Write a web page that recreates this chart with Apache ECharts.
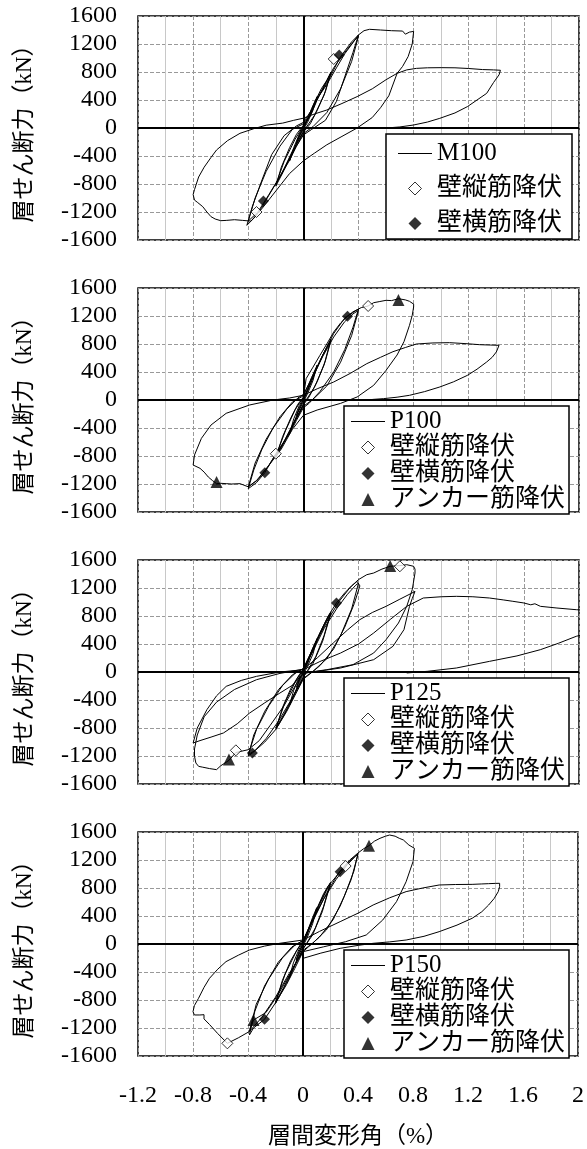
<!DOCTYPE html>
<html style="height: 100%">
<head>
<meta charset="utf-8">
</head>
<body style="height: 100%; margin: 0; background: #fff">
<div id="container" style="width: 587px; height: 1149px;"></div>
<script src="https://cdn.jsdelivr.net/npm/echarts@6/dist/echarts.min.js"></script>
<script type="text/javascript">
// specimen names (one panel each)
var panelNames = ['M100', 'P100', 'P125', 'P150'];
var xTicks = [-1.2, -0.8, -0.4, 0, 0.4, 0.8, 1.2, 1.6, 2];
var yTicks = [-1600, -1200, -800, -400, 0, 400, 800, 1200, 1600];

// hysteresis curves [drift %, shear kN]
var M100 = [
[0,0],[0.02,80],[0.04,170],[0.05,220],[0.03,110],[0,10],[-0.02,-70],[-0.04,-160],[-0.05,-210],[-0.03,-110],[0,-10],
[0.03,120],[0.06,280],[0.1,450],[0.07,260],[0.03,80],[0,-20],[-0.04,-170],[-0.07,-320],[-0.1,-470],[-0.07,-280],[-0.03,-90],[0,20],
[0.04,160],[0.08,360],[0.13,560],[0.17,680],[0.2,800],[0.16,520],[0.1,250],[0.05,60],[0,-60],[-0.05,-230],[-0.1,-430],[-0.15,-640],[-0.2,-830],[-0.16,-560],[-0.1,-280],[-0.05,-90],[0,40],
[0.05,170],[0.1,400],[0.15,600],[0.2,790],[0.15,470],[0.08,180],[0,-50],[-0.08,-330],[-0.14,-580],[-0.2,-810],[-0.14,-480],[-0.06,-160],[0,30],
[0.05,190],[0.1,420],[0.17,640],[0.22,830],[0.26,990],[0.3,1100],[0.35,1230],[0.4,1330],[0.36,1080],[0.3,730],[0.24,380],[0.16,110],[0.06,-20],[0,-100],[-0.05,-260],[-0.1,-460],[-0.18,-730],[-0.25,-960],[-0.3,-1130],[-0.35,-1270],[-0.41,-1390],[-0.37,-1120],[-0.3,-740],[-0.23,-380],[-0.14,-110],[-0.05,30],[0,80],
[0.06,260],[0.14,560],[0.22,860],[0.3,1080],[0.37,1250],[0.4,1310],[0.35,950],[0.27,560],[0.17,220],[0.07,20],[0,-80],[-0.08,-360],[-0.16,-660],[-0.25,-950],[-0.33,-1200],[-0.4,-1330],[-0.35,-1000],[-0.27,-620],[-0.17,-260],[-0.08,-20],[0,60],
[0.05,200],[0.1,420],[0.17,620],[0.24,860],[0.3,1060],[0.36,1220],[0.4,1330],[0.44,1390],[0.48,1410],[0.56,1400],[0.64,1390],[0.72,1385],[0.74,1340],[0.77,1370],[0.8,1380],[0.79,1200],[0.76,1020],[0.72,880],[0.68,780],[0.62,460],[0.56,290],[0.5,150],[0.39,0],[0.28,-120],[0.17,-240],[0.08,-360],[0,-470],[-0.1,-650],[-0.2,-900],[-0.3,-1150],[-0.38,-1330],[-0.44,-1320],[-0.5,-1310],[-0.56,-1320],[-0.6,-1324],[-0.64,-1300],[-0.67,-1267],[-0.7,-1200],[-0.73,-1124],[-0.77,-1060],[-0.79,-1030],[-0.8,-950],[-0.79,-880],[-0.76,-700],[-0.72,-560],[-0.67,-420],[-0.63,-314],[-0.55,-180],[-0.46,-76],[-0.36,-10],[-0.27,40],[-0.15,70],[-0.07,110],[0,140],
[0.08,200],[0.17,257],[0.28,350],[0.39,448],[0.5,560],[0.6,690],[0.68,781],[0.75,830],[0.82,852],[0.9,860],[1.0,862],[1.1,860],[1.2,850],[1.3,835],[1.38,830],[1.43,825],[1.42,760],[1.38,650],[1.33,495],[1.26,400],[1.19,305],[1.1,215],[0.99,138],[0.9,85],[0.8,43],[0.7,15],[0.6,0]
];
var P100 = [
[0,0],[0.02,90],[0.04,190],[0.05,240],[0.03,120],[0,0],[-0.02,-80],[-0.04,-170],[-0.05,-220],[-0.03,-110],[0,0],
[0.03,150],[0.06,320],[0.1,500],[0.07,280],[0.03,90],[0,-30],[-0.04,-180],[-0.07,-330],[-0.1,-480],[-0.07,-270],[-0.03,-80],[0,20],
[0.04,180],[0.09,420],[0.14,640],[0.2,850],[0.16,560],[0.1,260],[0.04,40],[0,-70],[-0.05,-260],[-0.1,-460],[-0.15,-640],[-0.2,-820],[-0.15,-520],[-0.09,-250],[-0.04,-60],[0,40],
[0.05,220],[0.1,460],[0.15,680],[0.2,870],[0.15,500],[0.08,180],[0,-60],[-0.08,-360],[-0.14,-600],[-0.2,-800],[-0.13,-440],[-0.06,-140],[0,40],
[0.02,305],[0.07,470],[0.12,638],[0.17,800],[0.22,971],[0.27,1100],[0.32,1195],[0.36,1250],[0.4,1300],[0.36,1040],[0.3,720],[0.22,400],[0.12,120],[0.04,-50],[0,-110],[-0.05,-290],[-0.1,-480],[-0.2,-767],[-0.28,-1038],[-0.34,-1180],[-0.4,-1267],[-0.36,-1000],[-0.3,-700],[-0.22,-400],[-0.12,-130],[-0.04,30],[0,80],
[0.06,300],[0.14,620],[0.22,900],[0.3,1120],[0.36,1230],[0.4,1280],[0.35,920],[0.27,540],[0.17,200],[0.07,10],[0,-90],[-0.08,-370],[-0.16,-660],[-0.25,-930],[-0.33,-1140],[-0.4,-1240],[-0.35,-900],[-0.27,-560],[-0.17,-240],[-0.08,-30],[0,60],
[0.06,320],[0.14,640],[0.22,950],[0.3,1170],[0.36,1260],[0.42,1320],[0.47,1343],[0.51,1390],[0.55,1405],[0.6,1424],[0.64,1420],[0.69,1447],[0.74,1430],[0.77,1410],[0.8,1370],[0.8,1329],[0.79,1210],[0.77,1067],[0.73,833],[0.68,643],[0.6,424],[0.51,210],[0.39,43],[0.27,-48],[0.1,-143],[0,-219],
[-0.08,-420],[-0.16,-700],[-0.26,-960],[-0.34,-1150],[-0.4,-1240],[-0.46,-1195],[-0.52,-1200],[-0.56,-1195],[-0.6,-1190],[-0.63,-1195],[-0.66,-1150],[-0.69,-1100],[-0.72,-1030],[-0.75,-976],[-0.8,-929],[-0.79,-786],[-0.74,-548],[-0.67,-357],[-0.56,-190],[-0.39,-71],[-0.22,0],[-0.1,29],[0,67],
[0.1,160],[0.22,257],[0.34,380],[0.46,519],[0.56,610],[0.65,690],[0.74,750],[0.82,800],[0.94,815],[1.06,819],[1.18,805],[1.28,790],[1.36,785],[1.42,781],[1.4,686],[1.37,610],[1.33,543],[1.26,440],[1.19,352],[1.09,260],[0.99,186],[0.88,120],[0.77,67],[0.68,40],[0.58,19],[0.5,8]
];
var P125 = [
[0,0],[0.02,90],[0.05,230],[0.03,110],[0,0],[-0.02,-80],[-0.05,-220],[-0.03,-100],[0,0],
[0.04,200],[0.07,350],[0.1,480],[0.07,260],[0.03,80],[0,-30],[-0.04,-190],[-0.07,-340],[-0.1,-470],[-0.07,-260],[-0.03,-70],[0,20],
[0.05,230],[0.1,470],[0.15,680],[0.2,860],[0.15,520],[0.09,220],[0.03,20],[0,-70],[-0.05,-260],[-0.1,-470],[-0.15,-650],[-0.2,-820],[-0.15,-500],[-0.09,-230],[-0.03,-40],[0,40],
[0.06,260],[0.12,540],[0.17,740],[0.2,840],[0.14,440],[0.07,120],[0,-70],[-0.07,-330],[-0.14,-600],[-0.2,-800],[-0.13,-420],[-0.05,-110],[0,40],
[0.06,300],[0.12,560],[0.18,800],[0.24,986],[0.3,1130],[0.35,1230],[0.39,1295],[0.41,1230],[0.37,980],[0.3,640],[0.22,330],[0.12,90],[0.04,-40],[0,-100],[-0.06,-330],[-0.12,-560],[-0.2,-820],[-0.28,-1000],[-0.37,-1157],[-0.4,-1200],[-0.36,-900],[-0.28,-560],[-0.18,-250],[-0.08,-40],[0,50],
[0.07,300],[0.15,620],[0.24,900],[0.32,1110],[0.38,1240],[0.4,1270],[0.35,900],[0.27,520],[0.17,190],[0.07,10],[0,-90],[-0.09,-400],[-0.18,-700],[-0.27,-950],[-0.35,-1120],[-0.4,-1180],[-0.34,-820],[-0.25,-480],[-0.15,-190],[-0.06,-20],[0,50],
[0.08,380],[0.17,720],[0.26,1010],[0.34,1210],[0.4,1320],[0.46,1390],[0.51,1414],[0.57,1470],[0.63,1510],[0.7,1520],[0.75,1533],[0.8,1510],[0.81,1470],[0.81,1414],[0.79,1176],[0.75,938],[0.69,700],[0.6,462],[0.51,271],[0.36,105],[0.17,33],[0,-14],
[-0.06,-200],[-0.14,-480],[-0.24,-760],[-0.32,-980],[-0.4,-1110],[-0.49,-1150],[-0.54,-1262],[-0.6,-1340],[-0.63,-1395],[-0.68,-1380],[-0.73,-1360],[-0.76,-1348],[-0.78,-1300],[-0.79,-1205],[-0.79,-1100],[-0.77,-900],[-0.72,-640],[-0.63,-430],[-0.5,-250],[-0.34,-110],[-0.17,-20],[0,40],
[0.1,200],[0.22,420],[0.32,600],[0.41,748],[0.5,850],[0.6,938],[0.7,1040],[0.78,1120],[0.81,1152],[0.79,1050],[0.77,938],[0.73,605],[0.65,367],[0.51,176],[0.27,57],[0,-20],
[-0.08,-190],[-0.17,-300],[-0.28,-440],[-0.39,-586],[-0.48,-740],[-0.58,-871],[-0.67,-930],[-0.75,-980],[-0.8,-1014],[-0.77,-800],[-0.7,-538],[-0.63,-340],[-0.56,-205],[-0.45,-120],[-0.34,-62],[-0.17,0],[0,33],
[0.12,150],[0.27,271],[0.4,400],[0.51,557],[0.63,750],[0.75,938],[0.87,1057],[1.0,1075],[1.11,1081],[1.23,1075],[1.35,1057],[1.45,1030],[1.52,1010],[1.6,986],[1.65,960],[1.68,975],[1.72,938],[1.84,914],[1.98,890],[2.05,880],[2.12,860],[2.15,700],[2.1,600],[2.02,530],[1.98,510],[1.85,410],[1.72,319],[1.55,230],[1.35,152],[1.11,57],[0.9,10],[0.75,-14]
];
var P150 = [
[0,0],[0.02,100],[0.05,250],[0.03,120],[0,0],[-0.02,-90],[-0.05,-230],[-0.03,-110],[0,0],
[0.04,220],[0.07,380],[0.1,520],[0.07,290],[0.03,90],[0,-30],[-0.04,-200],[-0.07,-350],[-0.1,-490],[-0.07,-270],[-0.03,-80],[0,20],
[0.05,250],[0.1,500],[0.15,720],[0.2,880],[0.15,540],[0.09,230],[0.03,20],[0,-70],[-0.05,-270],[-0.1,-480],[-0.15,-670],[-0.2,-850],[-0.15,-520],[-0.09,-240],[-0.03,-40],[0,40],
[0.06,280],[0.12,560],[0.17,760],[0.2,860],[0.14,460],[0.07,130],[0,-70],[-0.07,-340],[-0.14,-620],[-0.2,-830],[-0.13,-430],[-0.05,-110],[0,40],
[0.06,310],[0.12,580],[0.18,820],[0.27,1033],[0.31,1114],[0.35,1200],[0.4,1295],[0.37,1040],[0.3,680],[0.22,350],[0.12,100],[0.04,-40],[0,-110],[-0.06,-350],[-0.12,-580],[-0.2,-840],[-0.28,-1076],[-0.36,-1200],[-0.39,-1300],[-0.35,-960],[-0.28,-600],[-0.18,-260],[-0.08,-40],[0,50],
[0.07,320],[0.15,640],[0.24,920],[0.32,1130],[0.38,1250],[0.4,1280],[0.35,920],[0.27,540],[0.17,200],[0.07,10],[0,-90],[-0.09,-410],[-0.18,-720],[-0.27,-980],[-0.36,-1086],[-0.39,-1250],[-0.34,-860],[-0.25,-500],[-0.15,-200],[-0.06,-20],[0,50],
[0.08,380],[0.17,720],[0.26,1020],[0.34,1200],[0.4,1300],[0.44,1360],[0.48,1405],[0.52,1470],[0.56,1510],[0.6,1540],[0.63,1557],[0.67,1540],[0.7,1510],[0.73,1486],[0.77,1414],[0.81,1367],[0.8,1176],[0.75,890],[0.68,605],[0.58,343],[0.46,129],[0.31,33],[0.15,-40],[0,-110],
[-0.1,-420],[-0.2,-760],[-0.3,-1050],[-0.39,-1250],[-0.47,-1340],[-0.55,-1419],[-0.62,-1280],[-0.68,-1150],[-0.72,-1070],[-0.72,-1010],[-0.75,-1014],[-0.79,-1014],[-0.8,-967],[-0.79,-880],[-0.76,-776],[-0.72,-620],[-0.68,-490],[-0.62,-360],[-0.56,-252],[-0.47,-160],[-0.39,-86],[-0.28,-30],[-0.17,10],[0,57],
[0.12,180],[0.27,319],[0.4,440],[0.51,557],[0.63,660],[0.75,748],[0.87,800],[0.99,843],[1.11,850],[1.23,852],[1.3,858],[1.35,862],[1.4,866],[1.43,867],[1.43,820],[1.42,748],[1.39,650],[1.35,557],[1.3,460],[1.23,367],[1.12,270],[0.99,176],[0.88,110],[0.75,57],[0.63,30],[0.51,10],[0.4,-20],[0.27,-62],[0.13,-130],[0,-205]
];
var curves = [M100, P100, P125, P150];

// yield points: wall vertical bar, wall horizontal bar, anchor bar
var tateYield = [
    [[0.22, 986], [-0.34, -1200]],
    [[0.47, 1343], [-0.20, -767]],
    [[0.70, 1510], [-0.49, -1119]],
    [[0.31, 1114], [-0.55, -1419]]
];
var yokoYield = [
    [[0.26, 1043], [-0.29, -1043]],
    [[0.32, 1195], [-0.28, -1038]],
    [[0.24, 986], [-0.37, -1157]],
    [[0.27, 1033], [-0.28, -1076]]
];
var anchorYield = [
    null,
    [[0.69, 1430], [-0.63, -1170]],
    [[0.63, 1515], [-0.54, -1250]],
    [[0.48, 1405], [-0.36, -1086]]
];

var dom = document.getElementById("container");
var myChart = echarts.init(dom);
var font = "'Liberation Serif', 'Noto Sans CJK JP'";
var tops = [16, 288, 560, 832];
// legend icons as paths so they keep their shape
var lineIcon = 'path://M0,0H34V1H0Z';
var diamondIcon = 'path://M0,-1L1,0L0,1L-1,0Z';
var triIcon = 'path://M0,-1L1,1L-1,1Z';
var grids = [], xAxes = [], yAxes = [], series = [], legends = [];

for (var i = 0; i < 4; i++) {
    grids.push({
        left: 138, right: 8, top: tops[i], height: 224,
        show: true, borderColor: '#000', borderWidth: 1.5, backgroundColor: 'transparent'
    });
    var last = (i === 3);
    xAxes.push({
        type: 'value', gridIndex: i,
        min: xTicks[0], max: xTicks[xTicks.length - 1], interval: 0.4,
        axisLine: {show: false}, axisTick: {show: false},
        axisLabel: {
            show: last, margin: 28, color: '#000', fontSize: 24, fontFamily: font,
            formatter: function (v) { return String(+v.toFixed(1)); }
        },
        splitLine: {show: true, lineStyle: {color: '#999', type: [4, 2], width: 1}},
        minorTick: {show: false, splitNumber: 2},
        minorSplitLine: {show: true, lineStyle: {color: '#c8c8c8', width: 1}},
        name: last ? '層間変形角（%）' : '',
        nameLocation: 'middle', nameGap: 69,
        nameTextStyle: {color: '#000', fontSize: 23, fontFamily: font}
    });
    yAxes.push({
        type: 'value', gridIndex: i,
        min: yTicks[0], max: yTicks[yTicks.length - 1], interval: 400,
        axisLine: {show: false}, axisTick: {show: false},
        axisLabel: {
            margin: 21, color: '#000', fontSize: 24, fontFamily: font,
            formatter: function (v) { return String(v); }
        },
        splitLine: {show: true, lineStyle: {color: '#999', type: [4, 2], width: 1}},
        name: '層せん断力（kN）',
        nameLocation: 'middle', nameRotate: 90, nameGap: 102,
        nameTextStyle: {color: '#000', fontSize: 23, fontFamily: font}
    });

    series.push({
        name: panelNames[i], type: 'line', xAxisIndex: i, yAxisIndex: i,
        data: curves[i], symbol: 'none', showSymbol: false, smooth: false,
        lineStyle: {color: '#000', width: 1}, itemStyle: {color: '#000'},
        emphasis: {disabled: true}, z: 3,
        markLine: {
            silent: true, symbol: ['none', 'none'], label: {show: false},
            lineStyle: {color: '#000', width: 2, type: 'solid'},
            emphasis: {disabled: true},
            data: [{xAxis: 0}, {yAxis: 0}]
        }
    });
    series.push({
        name: '壁縦筋降伏', type: 'scatter', xAxisIndex: i, yAxisIndex: i,
        data: tateYield[i], symbol: 'diamond', symbolSize: 11, z: 5,
        itemStyle: {color: '#fff', borderColor: '#000', borderWidth: 1},
        emphasis: {disabled: true}
    });
    series.push({
        name: '壁横筋降伏', type: 'scatter', xAxisIndex: i, yAxisIndex: i,
        data: yokoYield[i], symbol: 'diamond', symbolSize: 11, z: 5,
        itemStyle: {color: '#000'},
        emphasis: {disabled: true}
    });
    var names = [
        {name: panelNames[i], icon: lineIcon, itemStyle: {color: '#000', borderWidth: 0}},
        {name: '壁縦筋降伏', icon: diamondIcon, itemStyle: {color: '#fff', borderColor: '#000', borderWidth: 1}},
        {name: '壁横筋降伏', icon: diamondIcon, itemStyle: {color: '#000', borderWidth: 0}}
    ];
    if (anchorYield[i]) {
        series.push({
            name: 'アンカー筋降伏', type: 'scatter', xAxisIndex: i, yAxisIndex: i,
            data: anchorYield[i], symbol: 'triangle', symbolSize: 12, z: 5,
            itemStyle: {color: '#000'},
            emphasis: {disabled: true}
        });
        names.push({name: 'アンカー筋降伏', icon: triIcon, itemStyle: {color: '#000', borderWidth: 0}});
    }

    legends.push({
        orient: 'vertical',
        left: i === 0 ? 386 : 344,
        top: tops[i] + 118,
        padding: i === 0 ? [7, 10, 3, 12] : [3, 4, 2, 7],
        itemGap: i === 0 ? 10 : 1,
        itemWidth: 34, itemHeight: 13,
        symbolKeepAspect: true,
        selectedMode: false,
        backgroundColor: '#fff', borderColor: '#000', borderWidth: 1.5, borderRadius: 0,
        textStyle: {color: '#000', fontSize: 25, lineHeight: 24, fontFamily: font},
        data: names
    });
}

option = {
    animation: false,
    backgroundColor: '#fff',
    grid: grids,
    xAxis: xAxes,
    yAxis: yAxes,
    legend: legends,
    series: series
};
if (option && typeof option === "object") {
    myChart.setOption(option, true);
}
</script>
</body>
</html>
